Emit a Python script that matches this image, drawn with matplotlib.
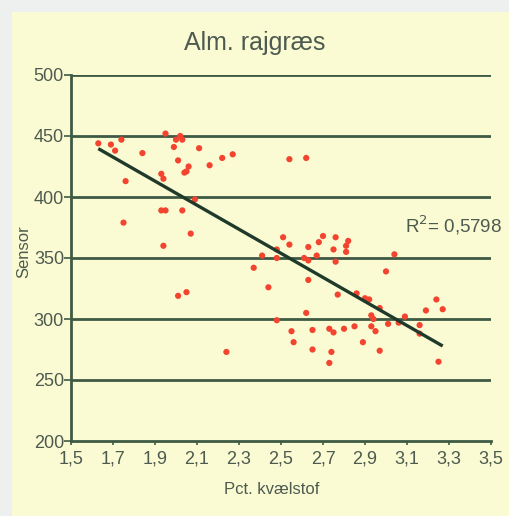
import numpy as np
import matplotlib
matplotlib.use("Agg")
import matplotlib.pyplot as plt

plt.rcParams["font.family"] = ["Liberation Sans", "DejaVu Sans"]

# Nitrogen content (%) and sensor reading for perennial ryegrass samples
kvaelstof = [
    1.63, 1.69, 1.71, 1.74, 1.76, 1.75, 1.84, 1.95, 1.93, 1.94,
    1.93, 1.95, 1.94, 1.99, 2.00, 2.02, 2.03, 2.01, 2.04, 2.05,
    2.06, 2.03, 2.07, 2.09, 2.11, 2.16, 2.22, 2.27, 2.01, 2.05,
    2.24, 2.37, 2.54, 2.62, 2.51, 2.54, 2.48, 2.48, 2.41, 2.44,
    2.63, 2.68, 2.70, 2.76, 2.75, 2.81, 2.82, 2.81, 2.67, 2.61,
    2.63, 2.76, 2.63, 3.04, 3.00, 2.77, 2.86, 2.90, 2.92, 2.97,
    2.62, 2.48, 2.55, 2.56, 2.65, 2.73, 2.75, 2.80, 2.85, 2.89,
    2.93, 2.94, 2.93, 2.95, 3.01, 3.06, 3.09, 3.16, 3.16, 3.19,
    3.24, 3.27, 3.25, 2.65, 2.74, 2.73, 2.97,
]
sensor = [
    444, 443, 438, 447, 413, 379, 436, 452, 419, 415,
    389, 389, 360, 441, 447, 450, 447, 430, 420, 421,
    425, 389, 370, 398, 440, 426, 432, 435, 319, 322,
    273, 342, 431, 432, 367, 361, 357, 350, 352, 326,
    359, 363, 368, 367, 357, 360, 364, 355, 352, 350,
    348, 347, 332, 353, 339, 320, 321, 317, 316, 309,
    305, 299, 290, 281, 291, 292, 289, 292, 294, 281,
    303, 300, 294, 290, 296, 297, 302, 295, 288, 307,
    316, 308, 265, 275, 273, 264, 274,
]
r2_label = "0,5798"

x_ticks = [1.5, 1.7, 1.9, 2.1, 2.3, 2.5, 2.7, 2.9, 3.1, 3.3, 3.5]
x_tick_labels = ["1,5", "1,7", "1,9", "2,1", "2,3", "2,5", "2,7", "2,9", "3,1", "3,3", "3,5"]
y_ticks = [200, 250, 300, 350, 400, 450, 500]

panel = "#fbfbd3"
grid_col = "#3f5a44"
text_col = "#4d5a4f"
dot_col = "#f2442e"
line_col = "#1f3a2a"

fig = plt.figure(figsize=(5.10, 5.16), dpi=100)
fig.patch.set_facecolor("#eef0f0")

# pale yellow panel behind the chart
bg = fig.add_axes([12 / 510, 0, 1 - 12 / 510, 1 - 12 / 516], zorder=-10)
bg.set_axis_off()
bg.add_patch(plt.Rectangle((0, 0), 1, 1, transform=bg.transAxes,
                           facecolor=panel, edgecolor="none"))

ax = fig.add_axes([71 / 510, 1 - 441 / 516, 420 / 510, 366 / 516], zorder=1)
ax.patch.set_alpha(0)

ax.set_xlim(1.5, 3.5)
ax.set_ylim(200, 500)

for yv in y_ticks[1:]:
    ax.axhline(yv, color=grid_col, lw=2.0, zorder=1)

ax.scatter(kvaelstof, sensor, s=20, color=dot_col, edgecolors="none", zorder=3)

# least-squares trend line over the observed range
slope, intercept = np.polyfit(kvaelstof, sensor, 1)
xs = np.array([min(kvaelstof), max(kvaelstof)])
ax.plot(xs, slope * xs + intercept, color=line_col, lw=2.4, zorder=4,
        solid_capstyle="butt")

for side in ("top", "right"):
    ax.spines[side].set_visible(False)
for side in ("left", "bottom"):
    ax.spines[side].set_color(grid_col)
    ax.spines[side].set_linewidth(2.0)

ax.set_xticks(x_ticks)
ax.set_xticklabels(x_tick_labels)
ax.set_yticks(y_ticks)
ax.tick_params(axis="x", direction="out", length=3, width=1.2, color=grid_col,
               labelsize=13, labelcolor=text_col, pad=4)
ax.tick_params(axis="y", direction="out", length=5, width=1.2, color=grid_col,
               labelsize=13, labelcolor=text_col, pad=0)

ax.text(3.09, 371, r"R$^2$= " + r2_label, fontsize=13.5, color=text_col,
        ha="left", va="baseline", zorder=5, clip_on=False)

fig.text(255 / 510, 1 - 43 / 516, "Alm. rajgræs", ha="center", va="center",
         fontsize=18, color=text_col)
fig.text(272 / 510, 1 - 490 / 516, "Pct. kvælstof", ha="center", va="center",
         fontsize=12, color=text_col)
fig.text(24 / 510, 1 - 252 / 516, "Sensor", ha="center", va="center",
         rotation=90, fontsize=12, color=text_col)

fig.savefig("out.png", dpi=100, facecolor=fig.get_facecolor())
